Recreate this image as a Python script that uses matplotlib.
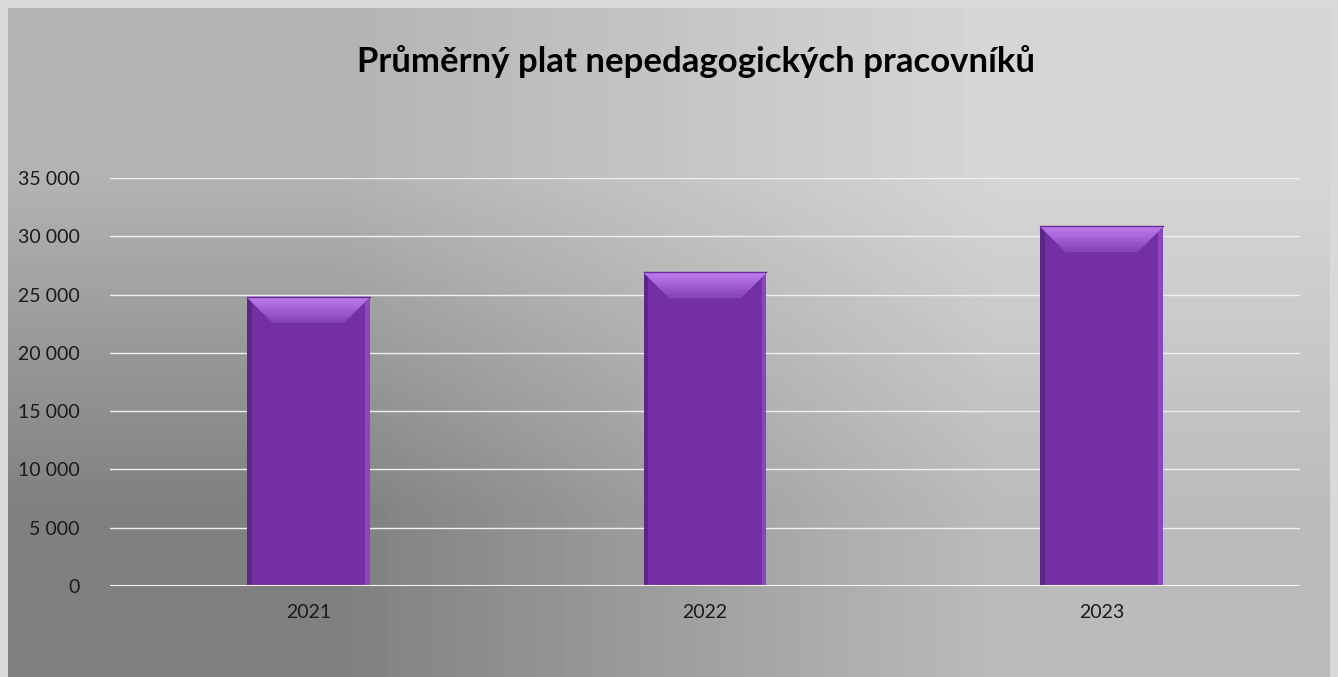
import matplotlib.pyplot as plt
import numpy as np
from matplotlib.patches import Polygon
from matplotlib.colors import to_rgb

# data
years = ['2021', '2022', '2023']
salary = [24800, 26900, 30850]
yticks = [0, 5000, 10000, 15000, 20000, 25000, 30000, 35000]
title = 'Průměrný plat nepedagogických pracovníků'

plt.rcParams['font.family'] = ['Lato', 'DejaVu Sans']

fig = plt.figure(figsize=(13.38, 6.77), dpi=100)
fig.patch.set_facecolor('#d9d9d9')

# gradient background of the chart area
bg = fig.add_axes([8/1338, 0, 1322/1338, 669/677])
corners = np.array([[179, 214], [128, 187]]) / 255.0
bg.imshow(corners, cmap='gray', vmin=0, vmax=1, interpolation='bilinear',
          aspect='auto', extent=[0, 1, 0, 1])
bg.set_axis_off()

ax = fig.add_axes([110/1338, 91/677, 1190/1338, 408/677])
ax.patch.set_alpha(0)
x = np.arange(len(years))
bars = ax.bar(x, salary, width=0.31, color='#7430a3', zorder=3)

ax.set_ylim(0, 35000)
ax.set_xlim(-0.5, len(years) - 0.5)
ax.set_yticks(yticks)
ax.set_yticklabels([f'{v:,}'.replace(',', ' ') for v in yticks])
ax.set_xticks(x)
ax.set_xticklabels(years)
ax.tick_params(length=0, labelsize=14, colors='#1a1a1a')
ax.tick_params(axis='y', pad=22)
ax.tick_params(axis='x', pad=13)
ax.grid(axis='y', color='#f0f0f0', lw=1, zorder=1)
for s in ax.spines.values():
    s.set_visible(False)

# bevel effect on bars
bev_y = 2200
bev_x = 0.065
c_top = np.array(to_rgb('#c07ef0'))
c_bot = np.array(to_rgb('#8040b2'))
n = 12
for r in bars:
    x0, w, h = r.get_x(), r.get_width(), r.get_height()
    x1 = x0 + w
    # thin side strips
    ax.add_patch(Polygon([[x0, 0], [x0 + 0.012, 0], [x0 + 0.012, h], [x0, h]],
                         closed=True, fc='#5c2688', ec='none', zorder=4))
    ax.add_patch(Polygon([[x1 - 0.012, 0], [x1, 0], [x1, h], [x1 - 0.012, h]],
                         closed=True, fc='#8a45bf', ec='none', zorder=4))
    # top bevel as a gradient of slices
    for i in range(n):
        t0, t1 = i / n, (i + 1) / n
        c = c_top * (1 - t0) + c_bot * t0
        ax.add_patch(Polygon([[x0 + bev_x * t0, h - bev_y * t0], [x1 - bev_x * t0, h - bev_y * t0],
                              [x1 - bev_x * t1, h - bev_y * t1], [x0 + bev_x * t1, h - bev_y * t1]],
                             closed=True, fc=c, ec=c, lw=0.3, zorder=5))
    ax.plot([x0, x1], [h, h], color='#6a2a95', lw=1, zorder=6)

ax.axhline(0, color='#f4f4f4', lw=1.5, zorder=6)

fig.text(696/1338, 1 - 62/677, title, ha='center', va='center',
         fontsize=25, fontweight='bold', color='black')

fig.savefig('out.png', dpi=100)
